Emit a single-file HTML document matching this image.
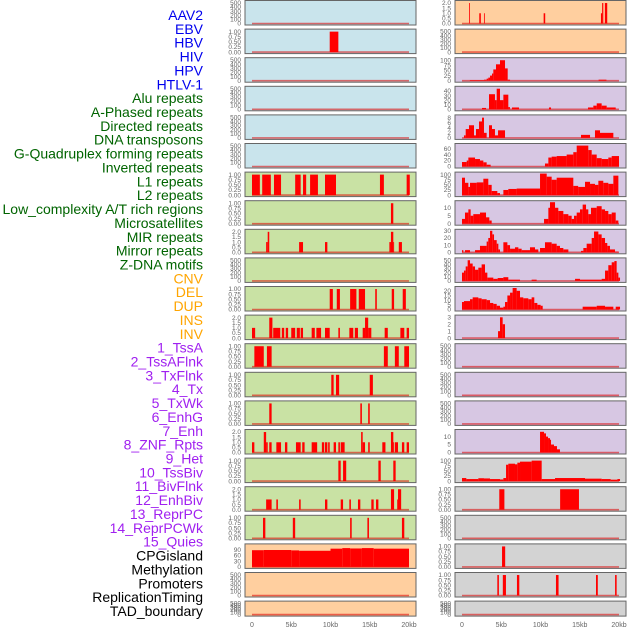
<!DOCTYPE html>
<html><head><meta charset="utf-8"><style>
html,body{margin:0;padding:0;background:#fff;width:630px;height:630px;overflow:hidden}
svg{display:block;font-family:"Liberation Sans",sans-serif}
</style></head><body>
<svg id="chart" width="630" height="630" viewBox="0 0 630 630"></svg>
<script>
const trackLabels=["AAV2","EBV","HBV","HIV","HPV","HTLV-1","Alu repeats","A-Phased repeats","Directed repeats","DNA transposons","G-Quadruplex forming repeats","Inverted repeats","L1 repeats","L2 repeats","Low_complexity A/T rich regions","Microsatellites","MIR repeats","Mirror repeats","Z-DNA motifs","CNV","DEL","DUP","INS","INV","1_TssA","2_TssAFlnk","3_TxFlnk","4_Tx","5_TxWk","6_EnhG","7_Enh","8_ZNF_Rpts","9_Het","10_TssBiv","11_BivFlnk","12_EnhBiv","13_ReprPC","14_ReprPCWk","15_Quies","CPGisland","Methylation","Promoters","ReplicationTiming","TAD_boundary"];
const labelGroups=[6,13,5,15,5];
const xTickValues=[0,5,10,15,20];
const xTickLabels=["0","5kb","10kb","15kb","20kb"];
const ticksEmpty=[0,100,200,300,400,500];
const ticksBin=[0,0.25,0.5,0.75,1];
const ticksTwo=[0,0.5,1,1.5,2];
// column 1 segments [startKb,endKb,value]
const c1r1=[[9.9,11.0,1]];
const c1r6=[[0,1.0,1],[1.3,2.4,1],[2.8,3.7,1],[5.5,6.2,1],[6.5,6.9,1],[7.4,8.4,1],[9.3,10.7,1],[16.3,16.8,1],[19.7,20.1,1]];
const c1r7=[[17.7,18.0,1]];
const c1r8=[[1.8,2.0,1],[2.0,2.2,2],[6.0,6.5,1],[9.3,9.6,1],[17.5,17.7,1],[17.7,18.0,2],[18.0,18.1,1],[18.7,19.1,1]];
const c1r10=[[9.9,10.3,1],[10.8,11.2,1],[12.5,13.3,1],[13.6,14.4,1],[15.7,15.9,1],[17.8,18.1,1],[19.2,19.6,1]];
const c1r11=[[0,0.4,1],[2.2,2.6,2],[2.7,3.6,1],[3.8,4.1,1],[4.3,4.6,1],[5.0,5.5,1],[5.7,6.1,1],[6.2,6.5,1],[7.6,8.0,1],[8.2,8.8,1],[9.3,9.9,1],[11.0,11.2,1],[12.4,12.9,1],[13.1,13.5,1],[14.1,14.4,1],[14.4,14.8,2],[14.8,15.2,1],[16.9,17.3,1],[18.9,19.4,1],[19.7,20.0,1]];
const c1r12=[[0.3,1.5,1],[1.9,2.5,1],[16.8,17.3,1],[18.2,18.7,1],[19.4,20.0,1]];
const c1r13=[[10.1,10.4,1],[10.7,11.1,1],[15.0,15.4,1]];
const c1r14=[[2.2,2.5,1],[13.8,14.0,1],[14.8,15.0,1]];
const c1r15=[[0,0.3,1],[1.5,1.8,2],[1.8,2.0,1],[2.2,2.5,1],[3.1,3.7,1],[4.2,4.5,1],[5.6,6.2,1],[6.4,6.7,1],[7.6,8.3,1],[8.9,9.2,1],[9.3,9.6,1],[9.7,9.9,1],[10.4,10.7,1],[11.0,11.2,1],[11.3,11.8,1],[13.9,14.1,2],[14.1,14.4,1],[14.8,15.0,1],[16.6,17.0,1],[17.7,18.0,2],[18.0,18.1,1],[18.2,18.6,1],[19.1,19.4,1],[19.7,20.0,1]];
const c1r16=[[11.0,11.3,1],[11.6,12.0,1],[16.1,16.4,1],[18.0,18.3,1]];
const c1r17=[[1.8,2.5,1],[3.1,3.3,1],[6.0,6.2,1],[9.3,9.6,1],[11.3,11.6,1],[12.4,12.6,1],[13.5,13.8,1],[15.2,15.5,1],[15.8,16.1,1],[17.7,18.1,2],[18.5,18.6,1],[18.6,19.0,2]];
const c1r18=[[1.4,1.7,1],[5.2,5.5,1],[12.5,12.7,1],[14.7,14.9,1],[19.1,19.4,1]];
const c1r19=[[0,1.5,87],[1.5,5,88],[5,6,86],[6,10,84],[10,11.5,95],[11.5,12.5,98],[12.5,14,96],[14,15.5,98],[15.5,20,95]];
// column 2 segments
const c2r0=[[0.9,1.0,2],[2.2,2.4,1],[2.8,2.9,1],[10.4,10.6,1],[17.7,17.85,1],[17.85,18.0,2],[18.2,18.5,2]];
const c2r2=[[1.0,2.8,3],[2.8,3.14,5],[3.14,3.35,10],[3.35,3.57,15],[3.57,3.82,25],[3.82,3.99,35],[3.99,4.33,55],[4.33,4.84,80],[4.84,5.48,100],[5.48,5.82,60],[5.82,6.12,5],[17.4,18.4,5]];
const c2r3=[[2.55,3.06,3],[3.44,4.2,33],[4.2,4.42,20],[4.42,4.84,45],[4.84,5.27,20],[5.27,5.9,32],[5.9,6.1,5],[6.37,7.26,4],[11.08,11.34,4],[16.05,16.73,4],[16.73,17.16,8],[17.16,17.79,13],[17.79,18.43,8],[18.43,19.58,4]];
const c2r4=[[0.25,0.47,1],[0.47,0.89,3.5],[0.89,1.53,5],[1.53,1.78,1],[1.78,2.17,3.5],[2.17,2.55,6.5],[2.55,2.8,8],[2.8,3.14,2],[3.44,3.82,5],[3.82,4.2,3.5],[4.2,4.59,1],[4.59,5.48,3],[15.16,16.31,1.2],[16.94,17.58,3],[17.58,19.28,2]];
const c2r5=[[0,0.6,15],[0.6,0.81,20],[0.81,1.66,30],[1.66,2.29,25],[2.29,2.72,20],[2.72,3.14,14],[3.14,3.65,6],[10.57,11.0,10],[11.0,11.42,30],[11.42,12.06,33],[12.06,13.33,35],[13.33,14.18,40],[14.18,14.61,48],[14.61,16.09,70],[16.09,16.52,55],[16.52,17.16,40],[17.16,17.79,28],[17.79,18.64,25],[18.64,19.07,30],[19.07,20.0,35]];
const c2r6=[[0,0.38,85],[0.38,0.81,60],[0.81,1.02,40],[1.02,1.87,60],[1.87,2.72,62],[2.72,3.35,80],[3.35,3.78,50],[3.78,4.5,20],[4.5,4.84,10],[5.27,5.9,25],[5.9,6.96,30],[6.96,9.94,32],[9.94,10.79,105],[10.79,11.42,90],[11.42,12.06,75],[12.06,14.18,85],[14.18,14.8,45],[14.8,15.67,40],[15.67,16.31,65],[16.31,16.94,55],[16.94,17.37,50],[17.37,18.0,70],[18.0,18.64,60],[18.64,19.28,55],[19.28,19.92,95]];
const c2r7=[[0,0.38,3],[0.38,0.81,7],[0.81,1.1,9],[1.1,1.44,5],[1.44,2.29,6],[2.29,3.06,7],[3.06,3.48,4],[3.48,3.78,2],[10.45,11.0,3],[11.0,11.21,10],[11.21,11.85,13.5],[11.85,12.27,10],[12.27,12.91,8],[12.91,13.55,6],[13.55,13.97,5],[13.97,14.27,3],[14.27,14.61,5],[14.61,15.03,7],[15.03,15.37,9],[15.37,15.8,12],[15.8,16.09,9],[16.09,16.43,6],[16.43,17.16,10],[17.16,17.79,11],[17.79,18.22,9],[18.22,18.64,8],[18.64,19.07,6],[19.07,19.58,7],[19.58,19.92,2]];
const c2r8=[[0,0.17,3],[0.38,1.02,3],[1.66,2.29,3],[2.29,3.14,9],[3.14,3.35,15],[3.35,3.57,20],[3.57,3.86,30],[3.86,4.08,25],[4.08,4.42,17],[4.42,4.63,12],[4.63,4.84,4],[5.27,5.78,14],[5.78,6.12,10],[6.12,6.75,5],[6.75,7.18,7],[7.18,7.6,5],[7.6,8.66,3],[8.66,9.3,7],[9.3,9.72,4],[9.94,10.57,6],[10.57,11.42,14],[11.42,12.06,12],[12.06,12.48,9],[12.48,12.91,6],[12.91,13.55,4],[15.16,15.46,2],[15.46,15.88,6],[15.88,16.52,12],[16.52,16.82,20],[16.82,17.37,29],[17.37,17.79,25],[17.79,18.22,20],[18.22,18.51,13],[18.51,18.85,9],[18.85,19.49,4],[19.49,19.92,1]];
const c2r9=[[0,0.25,20],[0.25,0.47,25],[0.47,0.72,35],[0.72,1.02,50],[1.02,1.36,42],[1.36,1.66,35],[1.66,2.08,27],[2.08,2.5,32],[2.5,2.93,40],[2.93,3.23,20],[3.23,3.99,8],[3.99,4.54,5],[4.54,5.27,7],[5.27,5.9,9],[5.9,7.39,3],[8.87,9.51,3],[14.4,15.03,5],[15.03,17.79,3],[17.79,18.22,5],[18.22,18.64,25],[18.64,19.07,38],[19.07,19.41,45],[19.41,19.7,48],[19.7,19.92,20],[19.92,20.13,8]];
const c2r10=[[0,0.25,8],[0.25,1.02,9],[1.02,1.36,11],[1.36,2.08,13],[2.08,2.5,12],[2.5,3.14,11],[3.14,3.57,10],[3.57,3.99,7],[3.99,4.42,6],[4.42,4.84,4],[4.84,5.27,2],[5.27,5.48,3],[5.48,5.78,8],[5.78,6.12,15],[6.12,6.45,18],[6.45,6.96,23],[6.96,7.39,20],[7.39,7.81,13],[7.81,8.45,12],[8.45,8.87,11],[8.87,9.21,13],[9.21,9.6,7],[9.6,10.02,5],[10.02,10.28,4],[15.37,17.16,3],[17.16,18.22,4],[18.22,19.28,3],[19.58,20.13,3]];
const c2r11=[[4.59,4.84,1],[4.84,5.18,3],[5.18,5.48,2]];
const c2r15=[[9.94,10.45,13],[10.45,10.7,12],[10.7,10.96,10],[10.96,11.21,9],[11.21,11.34,8],[11.34,11.72,5],[11.72,12.1,4],[12.1,12.48,2]];
const c2r16=[[0,0.55,15],[0.55,2.08,10],[2.08,2.8,14],[2.8,3.57,13],[3.57,4.84,10],[4.84,5.27,8],[5.27,5.61,15],[5.61,5.9,80],[5.9,6.75,85],[6.75,7.05,82],[7.05,7.39,90],[7.39,8.87,95],[8.87,10.15,100],[10.15,11.85,10],[11.85,15.67,15],[15.67,17.79,12],[17.79,18.94,10],[18.94,19.79,7],[19.79,20.13,10]];
const c2r17=[[4.75,5.4,1],[12.5,14.9,1]];
const c2r19=[[5.1,5.5,1]];
const c2r20=[[4.5,4.7,1],[5.2,5.6,1],[7.0,7.3,1],[11.97,12.3,1],[17.07,17.3,1],[19.5,19.7,1]];

const E=null;
const col1Segs=[E,c1r1,E,E,E,E,c1r6,c1r7,c1r8,E,c1r10,c1r11,c1r12,c1r13,c1r14,c1r15,c1r16,c1r17,c1r18,c1r19,E,E];
const col1Ticks=[ticksEmpty,ticksBin,ticksEmpty,ticksEmpty,ticksEmpty,ticksEmpty,ticksBin,ticksBin,ticksTwo,ticksEmpty,ticksBin,ticksTwo,ticksBin,ticksBin,ticksBin,ticksTwo,ticksBin,ticksTwo,ticksBin,[0,30,60,90],ticksEmpty,ticksEmpty];
const col1Max=[520,1.05,520,520,520,520,1.05,1.05,2.1,520,1.05,2.1,1.05,1.05,1.05,2.1,1.05,2.1,1.05,112,520,520];
const col2Segs=[c2r0,E,c2r2,c2r3,c2r4,c2r5,c2r6,c2r7,c2r8,c2r9,c2r10,c2r11,E,E,E,c2r15,c2r16,c2r17,E,c2r19,c2r20,E];
const col2Ticks=[ticksTwo,ticksEmpty,[0,25,50,75,100],[0,10,20,30,40],[0,2,4,6,8],[0,20,40,60],[0,25,50,75,100],[0,5,10],[0,10,20,30],[0,10,20,30,40,50],[0,5,10,15,20],[0,1,2,3],ticksEmpty,ticksEmpty,ticksEmpty,[0,5,10],[0,25,50,75,100],ticksBin,ticksEmpty,ticksBin,ticksBin,ticksEmpty];
const col2Max=[2.1,520,105,47,8.5,72,105,13.5,30,52,23,3.1,520,520,520,13.5,105,1.05,520,1.05,1.05,520];

const NS="http://www.w3.org/2000/svg";
const svg=document.getElementById('chart');
function mk(tag,attrs,parent){const e=document.createElementNS(NS,tag);for(const k in attrs)e.setAttribute(k,attrs[k]);(parent||svg).appendChild(e);return e;}
const BG1=i=>i<6?"#c9e4ec":(i<19?"#c9e2a4":"#ffcf9f");
const BG2=i=>i<2?"#ffcf9f":(i<16?"#d7c7e3":"#d3d3d3");
function fmt(t,ticks){if(ticks===ticksBin)return t.toFixed(2);if(ticks===ticksTwo)return t.toFixed(1);return String(t);}

function drawPanel(col,i,segs,ticks,ymax,bg){
  const px=col===0?245:455, pw=171, x0=col===0?252:462, kbw=7.85;
  const top=0.5+28.6*i, h=(i===21)?15:24.5;
  const bottom=top+h-1.5;
  const xs=kb=>x0+kb*kbw;
  const ys=v=>bottom-v/ymax*(h-3);
  const g=mk('g',{});
  
  
  const r=mk('rect',{x:px,y:top,width:pw,height:h,fill:bg,stroke:'#666','stroke-width':1},g);
  
  
  const bl=mk('line',{x1:xs(0),x2:xs(20),y1:bottom,y2:bottom,stroke:'rgba(220,0,0,0.55)','stroke-width':1.6},g);
  
  
  if(segs){for(const s of segs){
    const b=mk('rect',{x:xs(s[0]),y:ys(s[2]),width:Math.max(0.8,xs(s[1])-xs(s[0])),height:bottom-ys(s[2]),fill:'#ff0000'},g);
    
    
  }}
  const tx=col===0?241:451;
  for(const t of ticks){
    const tl=mk('text',{x:tx,y:ys(t)+2.2,'text-anchor':'end','font-size':6.5,fill:'#666'},g);
    tl.textContent=fmt(t,ticks);
    
    
  }
}
for(let i=0;i<22;i++){
  drawPanel(0,i,col1Segs[i],col1Ticks[i],col1Max[i],BG1(i));
  drawPanel(1,i,col2Segs[i],col2Ticks[i],col2Max[i],BG2(i));
}
for(let c=0;c<2;c++){
  const x0=c===0?252:462;
  xTickValues.forEach((v,k)=>{
    const t=mk('text',{x:x0+v*7.85,y:627,'text-anchor':'middle','font-size':7,fill:'#666'});
    t.textContent=xTickLabels[k];
    
    
  });
}
const groupColors=["#0000ee","#006400","#ffa500","#a020f0","#000000"];
let idx=0;
labelGroups.forEach((n,g)=>{
  for(let k=0;k<n;k++){
    const t=mk('text',{x:203,y:20+idx*13.86,'text-anchor':'end','font-size':14,fill:groupColors[g]});
    t.textContent=trackLabels[idx];
    
    
    idx++;
  }
});
</script>
</body></html>
